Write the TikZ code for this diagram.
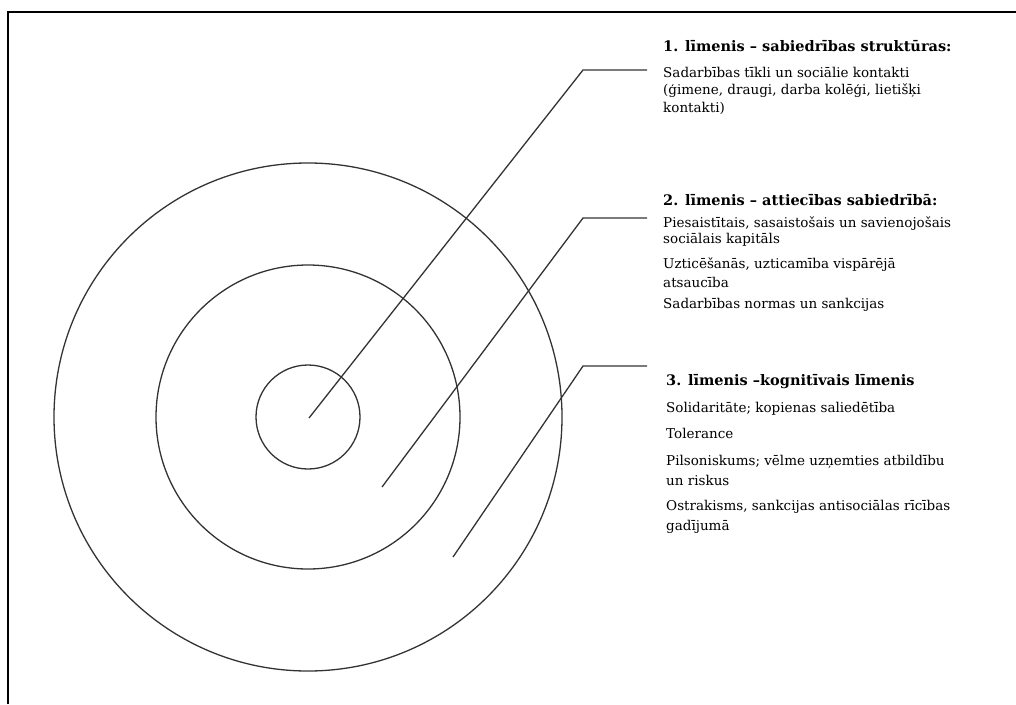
\documentclass[tikz,border=0pt]{standalone}
\usepackage{fontspec}
\setmainfont{DejaVu Serif}
\begin{document}
\begin{tikzpicture}[x=1pt,y=-1pt,
  ring/.style={draw=black!80,circle,line width=1.3pt,inner sep=0pt},
  leader/.style={draw=black!80,line width=1.3pt},
  txt/.style={anchor=base west,inner sep=0pt,font=\fontsize{13.5}{17}\selectfont},
  head/.style={txt,font=\fontsize{14.5}{17}\selectfont\bfseries}]
\useasboundingbox (0,0) rectangle (1016,704);
\draw[line width=2pt] (8,704) -- (8,12) -- (1016,12);
% circles
\node[ring,minimum size=508pt] (outer) at (308,417) {};
\node[ring,minimum size=304pt] (middle) at (308,417) {};
\node[ring,minimum size=104pt] (inner) at (308,417) {};
% leader coordinates
\coordinate (s1) at (309,418);
\coordinate (b1) at (583,70);
\coordinate (e1) at (647,70);
\coordinate (s2) at (382,487);
\coordinate (b2) at (583,218);
\coordinate (e2) at (647,218);
\coordinate (s3) at (453,557);
\coordinate (b3) at (583,366);
\coordinate (e3) at (647,366);
\draw[leader] (s1) -- (b1) -- (e1);
\draw[leader] (s2) -- (b2) -- (e2);
\draw[leader] (s3) -- (b3) -- (e3);
% block 1
\node[head] (h1) at (663,51) {1. līmenis – sabiedrības struktūras:};
\node[txt] (t11) at (663,77) {Sadarbības tīkli un sociālie kontakti};
\node[txt] (t12) at (663,94) {(ģimene, draugi, darba kolēģi, lietišķi};
\node[txt] (t13) at (663,112) {kontakti)};
% block 2
\node[head] (h2) at (663,205) {2. līmenis – attiecības sabiedrībā:};
\node[txt] (t21) at (663,227) {Piesaistītais, sasaistošais un savienojošais};
\node[txt] (t22) at (663,243) {sociālais kapitāls};
\node[txt] (t23) at (663,268) {Uzticēšanās, uzticamība vispārējā};
\node[txt] (t24) at (663,287) {atsaucība};
\node[txt] (t25) at (663,308) {Sadarbības normas un sankcijas};
% block 3
\node[head] (h3) at (666,385) {3. līmenis –kognitīvais līmenis};
\node[txt] (t31) at (666,412) {Solidaritāte; kopienas saliedētība};
\node[txt] (t32) at (666,438) {Tolerance};
\node[txt] (t33) at (666,465) {Pilsoniskums; vēlme uzņemties atbildību};
\node[txt] (t34) at (666,485) {un riskus};
\node[txt] (t35) at (666,510) {Ostrakisms, sankcijas antisociālas rīcības};
\node[txt] (t36) at (666,530) {gadījumā};
\end{tikzpicture}
\end{document}
